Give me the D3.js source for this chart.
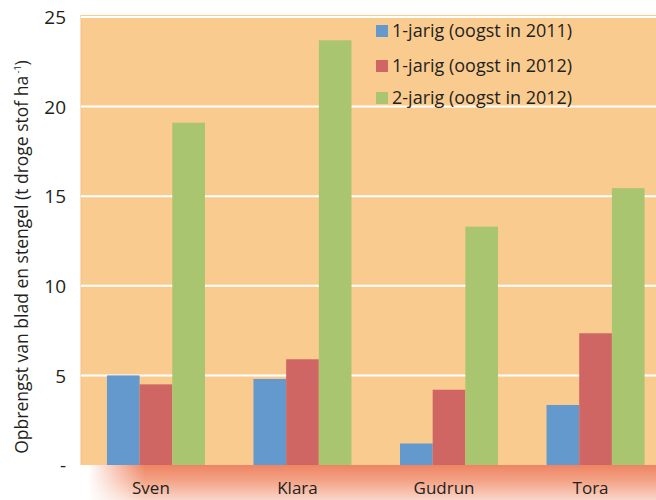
<!DOCTYPE html>
<meta charset="utf-8" />
<script src="https://d3js.org/d3.v7.min.js"></script>
<style>
  body { margin: 0; background: #fff; }
  text { font-family: "Open Sans", "Noto Sans", sans-serif; fill: #231f20; }
</style>
<body>
  <div id="chart"></div>
  <script>
    // data
    const rassen = ["Sven", "Klara", "Gudrun", "Tora"];
    const reeksen = ["1-jarig (oogst in 2011)", "1-jarig (oogst in 2012)", "2-jarig (oogst in 2012)"];
    const jarig2011 = [5.0, 4.8, 1.2, 3.35];
    const jarig2012 = [4.5, 5.9, 4.2, 7.35];
    const tweejarig2012 = [19.1, 23.7, 13.3, 15.45];
    const yTicks = [0, 5, 10, 15, 20, 25];
    const kleuren = ["#6399cd", "#cf6663", "#a9c56f"];

    const width = 656, height = 500;
    const plotLeft = 81, plotTop = 17, plotBottom = 465;

    const svg = d3.select("#chart").append("svg")
      .attr("width", width).attr("height", height);

    const defs = svg.append("defs");
    // vertical fade of the shadow band
    const vg = defs.append("linearGradient").attr("id", "schaduw")
      .attr("x1", 0).attr("y1", 0).attr("x2", 0).attr("y2", 1);
    vg.append("stop").attr("offset", "0%").attr("stop-color", "#ee8463");
    vg.append("stop").attr("offset", "45%").attr("stop-color", "#f3a386");
    vg.append("stop").attr("offset", "100%").attr("stop-color", "#fad6c9");
    // horizontal fade on the left end
    const hg = defs.append("linearGradient").attr("id", "links")
      .attr("gradientUnits", "userSpaceOnUse")
      .attr("x1", 88).attr("y1", 0).attr("x2", 145).attr("y2", 0);
    hg.append("stop").attr("offset", "0%").attr("stop-color", "#000");
    hg.append("stop").attr("offset", "100%").attr("stop-color", "#fff");
    defs.append("mask").attr("id", "fade")
      .attr("maskUnits", "userSpaceOnUse")
      .attr("x", 0).attr("y", 0).attr("width", width).attr("height", height)
      .append("rect")
      .attr("x", 0).attr("y", 0).attr("width", width).attr("height", height)
      .attr("fill", "url(#links)");

    // shadow under the plot
    svg.append("rect")
      .attr("x", 82).attr("y", plotBottom).attr("width", width - 82).attr("height", height - plotBottom)
      .attr("fill", "url(#schaduw)").attr("mask", "url(#fade)");

    const y = d3.scaleLinear().domain([0, 25]).range([plotBottom, plotTop]);
    const x0 = d3.scaleBand().domain(rassen).range([plotLeft, 670.5])
      .paddingInner(0.331).paddingOuter(0.177);
    const x1 = d3.scaleBand().domain(reeksen).range([0, x0.bandwidth()]);

    // plot background
    svg.append("rect")
      .attr("x", plotLeft).attr("y", plotTop - 2).attr("width", width - plotLeft).attr("height", plotBottom - plotTop + 2)
      .attr("fill", "#facb8f");
    svg.append("line")
      .attr("x1", plotLeft).attr("x2", plotLeft).attr("y1", plotTop - 2).attr("y2", plotBottom)
      .attr("stroke", "#f2bd7e").attr("stroke-width", 1);

    // grid
    svg.append("g").selectAll("line")
      .data(yTicks.filter(d => d > 0))
      .join("line")
      .attr("x1", plotLeft).attr("x2", width)
      .attr("y1", d => y(d)).attr("y2", d => y(d))
      .attr("stroke", "#fff").attr("stroke-width", 2);

    // bars
    const rows = rassen.map((r, i) => ({ ras: r, waarden: [jarig2011[i], jarig2012[i], tweejarig2012[i]] }));
    svg.append("g").selectAll("g")
      .data(rows)
      .join("g")
      .attr("transform", d => "translate(" + x0(d.ras) + ",0)")
      .selectAll("rect")
      .data(d => d.waarden.map((v, j) => ({ reeks: reeksen[j], v: v, c: kleuren[j] })))
      .join("rect")
      .attr("x", d => x1(d.reeks))
      .attr("y", d => y(d.v))
      .attr("width", x1.bandwidth())
      .attr("height", d => plotBottom - y(d.v))
      .attr("fill", d => d.c);

    // y axis labels
    const yAxis = svg.append("g")
      .attr("transform", "translate(" + (plotLeft - 12) + ",0)")
      .call(d3.axisLeft(y).tickValues(yTicks).tickSize(0)
        .tickFormat(d => d === 0 ? "-" : d));
    yAxis.select(".domain").remove();
    yAxis.selectAll("text")
      .style("font-size", "19px")
      .attr("dy", "0.35em")
      .style("font-family", "'Open Sans', sans-serif")
      .attr("fill", "#231f20");

    // x labels
    svg.append("g").selectAll("text")
      .data(rassen)
      .join("text")
      .attr("x", d => x0(d) + x0.bandwidth() / 2 - 5)
      .attr("y", 494)
      .attr("text-anchor", "middle")
      .style("font-size", "17px")
      .text(d => d);

    // y title
    const yt = svg.append("text")
      .attr("transform", "translate(28,257) rotate(-90)")
      .attr("text-anchor", "middle")
      .style("font-size", "17.5px");
    yt.append("tspan").text("Opbrengst van blad en stengel  (t droge stof ha");
    yt.append("tspan").attr("dy", "-7").style("font-size", "9px").text(" -1");
    yt.append("tspan").attr("dy", "7").text(")");

    // legend
    const legend = svg.append("g").selectAll("g")
      .data(reeksen)
      .join("g")
      .attr("transform", (d, i) => "translate(376," + [31, 66, 98][i] + ")");
    legend.append("rect")
      .attr("x", 0).attr("y", -6).attr("width", 12).attr("height", 12)
      .attr("fill", (d, i) => kleuren[i]);
    legend.append("text")
      .attr("x", 16).attr("dy", "0.35em")
      .style("font-size", "18px")
      .text(d => d);
  </script>
</body>
